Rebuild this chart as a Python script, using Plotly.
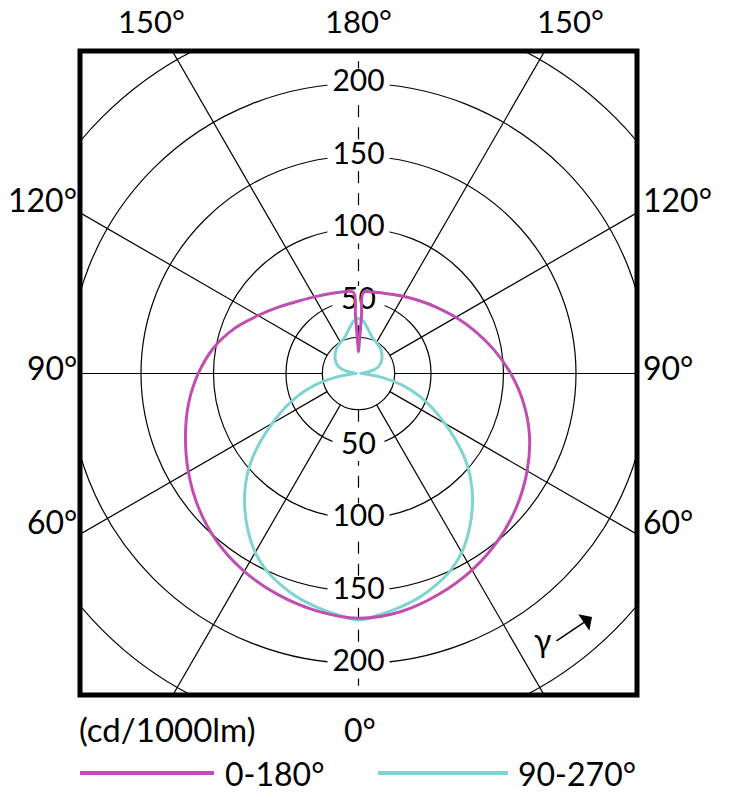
import numpy as np
import plotly.graph_objects as go

# ---------------- data (cd/1000lm) ----------------
# signed gamma: negative = left half of the diagram, positive = right half, 0 = straight down
gamma_0_180 = [-180, -179, -178, -177.5, -177, -176.5, -170, -160, -150, -140, -130, -120,
               -110, -100, -90, -80, -70, -60, -50, -40, -30, -20, -10, 0,
               10, 20, 30, 40, 50, 60, 70, 80, 90, 100, 110, 120, 130, 140, 150, 160, 170,
               176.5, 177, 177.5, 178, 179, 180]
I_0_180 = [15, 18.5, 25, 31, 40, 56, 57.3, 58.5, 61, 65, 71.5, 80,
           91, 101.5, 110.5, 119, 127, 135.5, 144, 151.6, 157.6, 162.3, 166.2, 168.8,
           166.8, 162, 156.5, 150, 142.5, 134.3, 125.5, 115.5, 105, 94.8, 85.5, 77.5, 70.8, 65.5, 61.5, 58.5, 57,
           56, 40, 31, 25, 18.5, 15]

gamma_90_270 = [-180, -175, -170, -165, -160, -150, -140, -130, -120, -110, -105, -100, -95, -90,
                -85, -80, -75, -70, -65, -60, -55, -50, -45, -40, -35, -30, -25, -20, -15, -10, -5, 0,
                5, 10, 15, 20, 25, 30, 35, 40, 45, 50, 55, 60, 65, 70, 75, 80, 85,
                90, 95, 100, 105, 110, 120, 130, 140, 150, 160, 165, 170, 175, 180]
I_90_270 = [38, 36.5, 32.8, 29.5, 27, 24.7, 23.2, 21, 18.5, 15, 12, 7, 3, 1.5,
            6, 17.5, 31.5, 44, 56, 68.5, 83, 97.7, 110.5, 122, 132.7, 142.5, 150, 155.5, 160.2, 163.7, 167, 170,
            167, 163.7, 160.2, 155.5, 150, 142.5, 132.7, 122, 110.5, 97.7, 83, 68.5, 56, 44, 31.5, 17.5, 6,
            1.5, 3, 7, 12, 15, 18.5, 21, 23.2, 24.7, 27, 29.5, 32.8, 36.5, 38]

grid_radii = [25, 50, 100, 150, 200, 250]
radial_angles = [30, 60, 90, 120, 150]
scale_labels = [50, 100, 150, 200]

top_labels = ["150°", "180°", "150°"]
side_labels = ["120°", "90°", "60°"]
series_names = ["0-180°", "90-270°"]
unit_label = "(cd/1000lm)"
bottom_label = "0°"

MAGENTA = "#C04DB0"
CYAN = "#7FD4D0"
FONT = "Lato"

# ---------------- geometry ----------------
W, H = 739, 800
ML, MR, MT, MB = 80, 102, 51, 105
PW, PH = W - ML - MR, H - MT - MB
PXU = 1.45  # pixels per cd/1000lm
CY_PX = 373.5 - MT  # pixel distance from top of plot to pole
xr = PW / 2 / PXU
y_top = CY_PX / PXU
y_bot = -(PH - CY_PX) / PXU


def polar_xy(g, r):
    g = np.radians(np.asarray(g, float))
    r = np.asarray(r, float)
    return r * np.sin(g), -r * np.cos(g)


def paper(px, py):
    return (px - ML) / PW, (H - MB - py) / PH


fig = go.Figure()

# radial lines (from the 25 circle outward)
rx, ry = [], []
for a in radial_angles:
    for s in (-1, 1):
        x, y = polar_xy([s * a, s * a], [grid_radii[0], 600])
        rx += list(x) + [None]
        ry += list(y) + [None]
fig.add_trace(go.Scatter(x=rx, y=ry, mode="lines", line=dict(color="black", width=1.2),
                         hoverinfo="skip", showlegend=False))
# dashed vertical axis
vx, vy = [], []
for a in (0, 180):
    x, y = polar_xy([a, a], [grid_radii[0], 600])
    vx += list(x) + [None]
    vy += list(y) + [None]
fig.add_trace(go.Scatter(x=vx, y=vy, mode="lines",
                         line=dict(color="black", width=1.2, dash="12px,10px"),
                         hoverinfo="skip", showlegend=False))

# white boxes behind scale labels
for v in scale_labels:
    hw = (26 if v < 100 else 31) / PXU
    hh = 15 / PXU
    for s in (1, -1):
        yc = s * v
        fig.add_trace(go.Scatter(x=[-hw, hw, hw, -hw, -hw], y=[yc - hh, yc - hh, yc + hh, yc + hh, yc - hh],
                                 mode="lines", fill="toself", fillcolor="white",
                                 line=dict(width=0, color="white"), hoverinfo="skip", showlegend=False))
lab_y = [v for v in scale_labels] + [-v for v in scale_labels]
fig.add_trace(go.Scatter(x=[0] * len(lab_y), y=lab_y, mode="text",
                         text=[str(abs(v)) for v in lab_y],
                         textfont=dict(family=FONT, size=30, color="black"),
                         textposition="middle center", hoverinfo="skip", showlegend=False))

# curves
cx, cy = polar_xy(gamma_90_270, I_90_270)
fig.add_trace(go.Scatter(x=cx, y=cy, mode="lines", name=series_names[1],
                         line=dict(color=CYAN, width=3, shape="spline", smoothing=1.0),
                         showlegend=False))
mx, my = polar_xy(gamma_0_180, I_0_180)
fig.add_trace(go.Scatter(x=mx, y=my, mode="lines", name=series_names[0],
                         line=dict(color=MAGENTA, width=3, shape="spline", smoothing=1.0),
                         showlegend=False))

shapes = []
for r in grid_radii:
    shapes.append(dict(type="circle", xref="x", yref="y", x0=-r, x1=r, y0=-r, y1=r,
                       line=dict(color="black", width=1.2), layer="below"))
shapes.append(dict(type="rect", xref="paper", yref="paper", x0=0, x1=1, y0=0, y1=1,
                   line=dict(color="black", width=5), layer="above"))
# legend lines
for (x0, x1), col in zip([(80, 214), (378, 508)], [MAGENTA, CYAN]):
    p0 = paper(x0, 773)
    p1 = paper(x1, 773)
    shapes.append(dict(type="line", xref="paper", yref="paper", x0=p0[0], x1=p1[0], y0=p0[1], y1=p1[1],
                       line=dict(color=col, width=4)))

ann = []


def txt(t, px, py, xa="center", size=32):
    x, y = paper(px, py)
    ann.append(dict(text=t, x=x, y=y, xref="paper", yref="paper", xanchor=xa, yanchor="middle",
                    showarrow=False, font=dict(family=FONT, size=size, color="black")))


for t, px in zip(top_labels, [151, 358, 570]):
    txt(t, px, 21, size=31)
for t, py in zip(side_labels, [200, 367, 521]):
    txt(t, 79, py, "right")
    txt(t, 641, py, "left")
txt(bottom_label, 360, 729)
txt(unit_label, 77, 729, "left", 33)
txt(series_names[0], 223, 773, "left")
txt(series_names[1], 516, 773, "left")
# gamma arrow
gx, gy = paper(592, 617)
ann.append(dict(x=gx, y=gy, ax=555 - 592, ay=642 - 617, xref="paper", yref="paper",
                axref="pixel", ayref="pixel",
                text="", showarrow=True, arrowhead=1, arrowsize=2.2, arrowwidth=1.5, arrowcolor="black"))
txt("γ", 542, 639, "center", 32)

fig.update_layout(
    width=W, height=H, margin=dict(l=ML, r=MR, t=MT, b=MB),
    paper_bgcolor="white", plot_bgcolor="white",
    xaxis=dict(range=[-xr, xr], visible=False, fixedrange=True),
    yaxis=dict(range=[y_bot, y_top], visible=False, fixedrange=True),
    shapes=shapes, annotations=ann, showlegend=False,
)
fig.write_html("out.html")
